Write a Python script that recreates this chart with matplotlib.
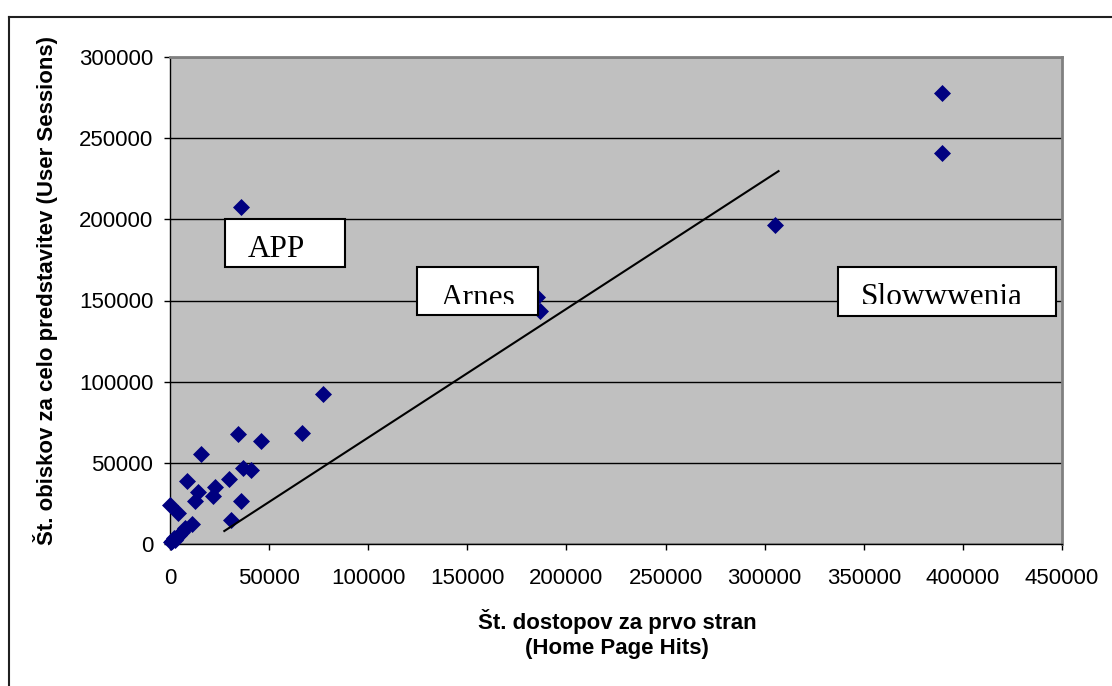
import matplotlib.pyplot as plt
from matplotlib.patches import Rectangle
from matplotlib.lines import Line2D

# hits na prvo stran (x) in seje (y), odčitano s slike
home_hits = [389500, 389500, 305000, 185300, 186800, 148500, 35700, 77100,
             34200, 45800, 66500, 15500, 36900, 40900, 8400, 29600, 22900,
             14300, 21900, 12500, 35900, 0, 4200, 30800, 11000, 7600,
             6000, 4500, 3000, 2000, 1000, 500, 2500]
sessions = [277900, 240600, 196400, 152100, 143500, 165500, 207700, 92200,
            67700, 63600, 68200, 55400, 47000, 45800, 38800, 39800, 34900,
            31800, 29600, 26300, 26500, 23800, 19300, 14800, 12300, 9700,
            7500, 5500, 4000, 3500, 2000, 1000, 2500]

# črta trenda
trend_x = [27400, 307000]
trend_y = [8000, 229700]

labels = ['APP', 'Arnes', 'Slowwwenia']

W, H = 1112, 686
fig = plt.figure(figsize=(W / 100, H / 100), dpi=100)
ax = fig.add_axes([170 / W, 1 - 544 / H, (1062 - 170) / W, (544 - 57) / H])
ax.set_facecolor('#c0c0c0')

ax.set_xlim(0, 450000)
ax.set_ylim(0, 300000)
ax.set_xticks(range(0, 450001, 50000))
ax.set_yticks(range(0, 300001, 50000))
ax.yaxis.grid(True, color='black', linewidth=1)
ax.set_axisbelow(True)

for s in ['top', 'right']:
    ax.spines[s].set_color('#808080')
    ax.spines[s].set_linewidth(2)
for s in ['bottom', 'left']:
    ax.spines[s].set_color('black')
    ax.spines[s].set_linewidth(1)

ax.tick_params(direction='out', length=4, width=1, labelsize=16)
ax.tick_params(axis='x', pad=13)
ax.tick_params(axis='y', pad=8)
for t in ax.get_xticklabels() + ax.get_yticklabels():
    t.set_fontfamily('Liberation Sans')

ax.scatter(home_hits, sessions, marker='D', s=75, color='#000080',
           linewidths=0, zorder=3, clip_on=False)
ax.plot(trend_x, trend_y, color='black', linewidth=1.5, zorder=4)

# okvirji z napisi (x0, y0, x1, y1), položaj besedila, spodnja meja izreza
boxes = [(27600, 170400, 88500, 200100), (124700, 141000, 185500, 170600),
         (337200, 140400, 447000, 170800)]
text_pos = [(39400, 176600), (136400, 146900), (348500, 147000)]
clip_y = [176900, 147700, 147800]
for lab, (x0, y0, x1, y1), (tx, ty), cy in zip(labels, boxes, text_pos, clip_y):
    r = Rectangle((x0, y0), x1 - x0, y1 - y0, facecolor='white',
                  edgecolor='black', linewidth=1.5, zorder=5)
    ax.add_patch(r)
    # besedilo je spodaj odrezano kot v originalu
    clip = Rectangle((x0, cy), x1 - x0, y1 - cy, transform=ax.transData)
    t = ax.text(tx, ty, lab, fontsize=22.5, family='Liberation Serif',
                va='baseline', ha='left', zorder=6)
    t.set_clip_on(True)
    t.set_clip_path(clip)

ax.set_xlabel('Št. dostopov za prvo stran\n(Home Page Hits)', fontsize=16,
              fontweight='bold', family='Liberation Sans', linespacing=1.25)
ax.xaxis.set_label_coords(0.501, -0.185)
ax.xaxis.label.set_va('center')
ax.set_ylabel('Št. obiskov za celo predstavitev (User Sessions)', fontsize=16,
              fontweight='bold', family='Liberation Sans')
ax.yaxis.set_label_coords(-0.140, 0.52)
ax.yaxis.label.set_va('center')

# zunanji okvir
fig.add_artist(Line2D([9 / W, 1], [1 - 17 / H, 1 - 17 / H], color='#202020', linewidth=1.5))
fig.add_artist(Line2D([9 / W, 9 / W], [0, 1 - 17 / H], color='#202020', linewidth=1.5))

fig.savefig('out.png', dpi=100)
